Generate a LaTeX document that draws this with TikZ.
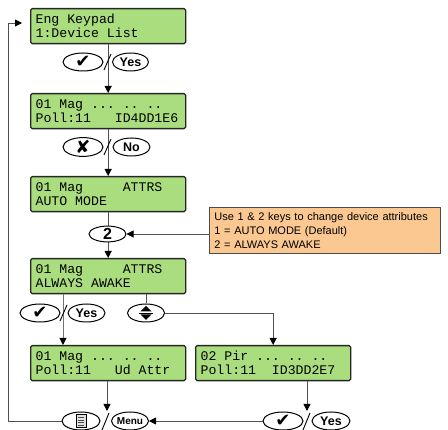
\documentclass[tikz,border=0pt]{standalone}
\usepackage{fontspec}
\setmainfont{Liberation Sans}
\newfontfamily\lcdfont{Liberation Mono}
\newfontfamily\symfont{DejaVu Sans}
\usetikzlibrary{arrows.meta,shapes.geometric}
\definecolor{lcdgreen}{RGB}{170,221,126}
\definecolor{noteorange}{RGB}{251,200,146}
\definecolor{linegray}{RGB}{80,80,80}
\newcommand\lsp[1]{\hspace*{#1\fontcharwd\font`0\relax}}
\begin{document}
\begin{tikzpicture}[x=1pt,y=-1pt,
  lcd/.style={draw=black!85, line width=1.3pt, rounded corners=1.5pt, fill=lcdgreen,
    anchor=north west, minimum width=155pt, minimum height=35pt, text width=145pt,
    inner xsep=5pt, inner ysep=3pt, align=left, font=\lcdfont\fontsize{13.2}{14}\selectfont},
  key/.style={draw=black, line width=1pt, ellipse, fill=white, minimum width=38pt,
    minimum height=18pt, inner sep=0pt, font=\bfseries\fontsize{12.5}{12.5}\selectfont},
  conn/.style={draw=linegray, line width=0.9pt},
  arr/.style={conn, -{Triangle[length=7pt,width=7pt,color=black]}},
  slash/.style={draw=black, line width=0.9pt},
  note/.style={draw=black!70, line width=0.8pt, fill=noteorange, anchor=north west,
    minimum width=225pt, minimum height=46pt, text width=221pt, inner xsep=5pt, inner ysep=3pt,
    align=left, font=\fontsize{11}{14}\selectfont}
]
\useasboundingbox (0,0) rectangle (448,430);

% LCD screens
\node[lcd] (b1) at (30,8) {Eng\lsp1Keypad\\1:Device\lsp1List};
\node[lcd] (b2) at (30,93) {01\lsp1Mag\lsp1...\lsp1..\lsp1..\\Poll:11\lsp3ID4DD1E6};
\node[lcd] (b3) at (30,176) {01\lsp1Mag\lsp5ATTRS\\AUTO\lsp1MODE};
\node[lcd] (b4) at (30,258) {01\lsp1Mag\lsp5ATTRS\\ALWAYS\lsp1AWAKE};
\node[lcd] (b5) at (30,345) {01\lsp1Mag\lsp1...\lsp1..\lsp1..\\Poll:11\lsp3Ud\lsp1Attr};
\node[lcd] (b6) at (195,345) {02\lsp1Pir\lsp1...\lsp1..\lsp1..\\Poll:11\lsp2ID3DD2E7};

% note
\node[note] (nt) at (209,207) {Use 1 \& 2 keys to change device attributes\\1 = AUTO MODE (Default)\\2 = ALWAYS AWAKE};

% row 1
\draw[arr] (b1.south) -- (b2.north);
\node[key, minimum width=40pt] (k1a) at (83,62) {\symfont\fontsize{18}{18}\selectfont ✔};
\node[key, minimum width=36pt] (k1b) at (130.5,62) {Yes};
\draw[slash] (104,70) -- (111,54);

% row 2
\draw[arr] (b2.south) -- (b3.north);
\node[key, minimum width=40pt] (k2a) at (83,147) {\symfont\fontsize{18}{18}\selectfont ✘};
\node[key, minimum width=37pt] (k2b) at (131.5,147) {No};
\draw[slash] (104,155) -- (111,139);

% row 3
\draw[arr] (b3.south) -- (b4.north);
\node[key, minimum width=37pt, minimum height=15pt, font=\bfseries\fontsize{16}{16}\selectfont] (k3) at (107.5,234) {2};
\draw[arr] (nt.west |- k3.east) -- (k3.east);

% row 4
\coordinate (s4) at (63,313);
\draw[arr, draw=black!55] (b4.south -| s4) -- (b5.north -| s4);
\node[key, minimum width=40pt] (k4a) at (40,313) {\symfont\fontsize{18}{18}\selectfont ✔};
\node[key, minimum width=37pt] (k4b) at (86.5,313) {Yes};
\draw[slash] (60,321) -- (67,305);
\node[key, minimum width=37pt] (k4c) at (146,313) {};
\draw[conn] (b4.south -| k4c) -- (k4c.north);
\fill (k4c.center) ++(-5.5,-1.5) -- ++(11,0) -- ++(-5.5,-5.5) -- cycle;
\fill (k4c.center) ++(-5.5,1.5) -- ++(11,0) -- ++(-5.5,5.5) -- cycle;
\draw[line width=0.7pt] (k4c.center) ++(-7,0) -- ++(14,0);
\draw[arr] (k4c.east) -| (b6.north);

% bottom row
\coordinate (m5) at (107,411);
\coordinate (m6) at (307,411);
\draw[arr] (b5.south -| m5) -- (m5);
\draw[arr] (b6.south -| m6) -- (m6);
\node[key, minimum width=38pt] (km) at (81,421) {};
\fill[black!12] (km.center) ++(-5,-6.5) rectangle ++(10,13);
\draw[line width=0.6pt] (km.center) ++(-5,-6.5) rectangle ++(10,13);
\foreach \dy in {-3.5,-1,1.5,4} \draw[line width=0.7pt, black!70] (km.center) ++(-3,\dy) -- ++(6,0);
\node[key, minimum width=37pt, font=\bfseries\fontsize{10}{10}\selectfont] (kM) at (130,421) {Menu};
\draw[slash] (102,430) -- (109,413);
\node[key, minimum width=40pt] (kc) at (283,421) {\symfont\fontsize{18}{18}\selectfont ✔};
\node[key, minimum width=38pt] (ky) at (331,421) {Yes};
\draw[slash] (303,430) -- (310,413);
\draw[arr] (kc.west) -- (kM.east);

% feedback loop
\coordinate (c1) at (8,421);
\coordinate (c2) at (8,23);
\coordinate (c3) at (22,23);
\draw[arr] (km.west) -- (c1) -- (c2) -- (c3);
\end{tikzpicture}
\end{document}
